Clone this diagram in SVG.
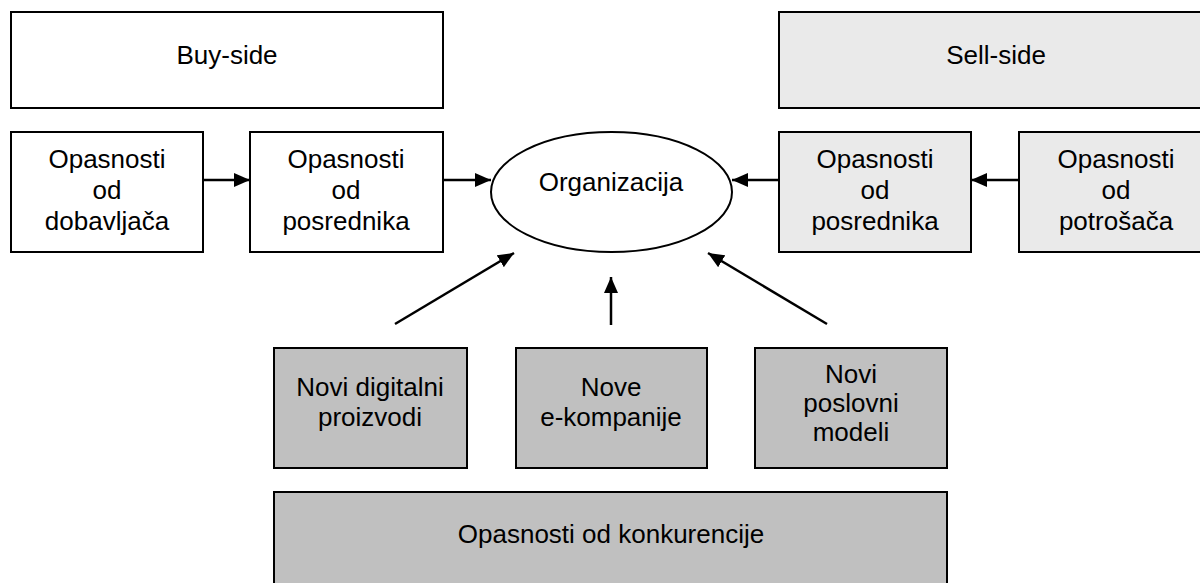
<svg xmlns="http://www.w3.org/2000/svg" width="1200" height="583" viewBox="0 0 1200 583">
  <defs>
    <marker id="arrow" viewBox="0 0 16 14" refX="16" refY="7" markerWidth="16" markerHeight="14" markerUnits="userSpaceOnUse" orient="auto">
      <path d="M0,0 L16,7 L0,14 Z" fill="#000"/>
    </marker>
    <style>
      .box { stroke: #000; stroke-width: 2; }
      .white { fill: #fff; }
      .light { fill: #eaeaea; }
      .grey { fill: #c0c0c0; }
      text { font-family: "Liberation Sans", Arial, sans-serif; font-size: 26px; fill: #000; text-anchor: middle; }
      .conn { stroke: #000; stroke-width: 2.5; fill: none; marker-end: url(#arrow); }
    </style>
  </defs>

  <rect width="1200" height="583" fill="#fff"/>

  <!-- top headers -->
  <g id="buy-side">
    <rect class="box white" x="11" y="12" width="432" height="96"/>
    <text x="227" y="64">Buy-side</text>
  </g>
  <g id="sell-side">
    <rect class="box light" x="779" y="12" width="434" height="96"/>
    <text x="996" y="64">Sell-side</text>
  </g>

  <!-- buy-side threats -->
  <g id="dobavljaci">
    <rect class="box white" x="11" y="132" width="192" height="120"/>
    <text x="107" y="168">Opasnosti</text>
    <text x="107" y="199">od</text>
    <text x="107" y="230">dobavljača</text>
  </g>
  <g id="posrednici-buy">
    <rect class="box white" x="250" y="132" width="193" height="120"/>
    <text x="346" y="168">Opasnosti</text>
    <text x="346" y="199">od</text>
    <text x="346" y="230">posrednika</text>
  </g>

  <!-- centre -->
  <g id="organizacija">
    <ellipse cx="611.5" cy="192" rx="120.5" ry="60" fill="#fff" stroke="#000" stroke-width="2"/>
    <text x="611" y="191">Organizacija</text>
  </g>

  <!-- sell-side threats -->
  <g id="posrednici-sell">
    <rect class="box light" x="779" y="132" width="192" height="120"/>
    <text x="875" y="168">Opasnosti</text>
    <text x="875" y="199">od</text>
    <text x="875" y="230">posrednika</text>
  </g>
  <g id="potrosaci">
    <rect class="box light" x="1019" y="132" width="194" height="120"/>
    <text x="1116" y="168">Opasnosti</text>
    <text x="1116" y="199">od</text>
    <text x="1116" y="230">potrošača</text>
  </g>

  <!-- competition -->
  <g id="digitalni-proizvodi">
    <rect class="box grey" x="274" y="348" width="193" height="120"/>
    <text x="370" y="396">Novi digitalni</text>
    <text x="370" y="426">proizvodi</text>
  </g>
  <g id="e-kompanije">
    <rect class="box grey" x="516" y="348" width="191" height="120"/>
    <text x="611" y="396">Nove</text>
    <text x="611" y="426">e-kompanije</text>
  </g>
  <g id="poslovni-modeli">
    <rect class="box grey" x="755" y="348" width="192" height="120"/>
    <text x="851" y="383">Novi</text>
    <text x="851" y="412">poslovni</text>
    <text x="851" y="441">modeli</text>
  </g>
  <g id="konkurencija">
    <rect class="box grey" x="274" y="492" width="673" height="100"/>
    <text x="611" y="543">Opasnosti od konkurencije</text>
  </g>

  <!-- connectors -->
  <g id="connectors">
    <line class="conn" x1="203" y1="180" x2="250" y2="180"/>
    <line class="conn" x1="443" y1="180" x2="491" y2="180"/>
    <line class="conn" x1="779" y1="180" x2="732" y2="180"/>
    <line class="conn" x1="1019" y1="180" x2="971" y2="180"/>
    <line class="conn" x1="395" y1="324" x2="514" y2="253"/>
    <line class="conn" x1="611" y1="325" x2="611" y2="277"/>
    <line class="conn" x1="827" y1="324" x2="708" y2="253"/>
  </g>
</svg>
